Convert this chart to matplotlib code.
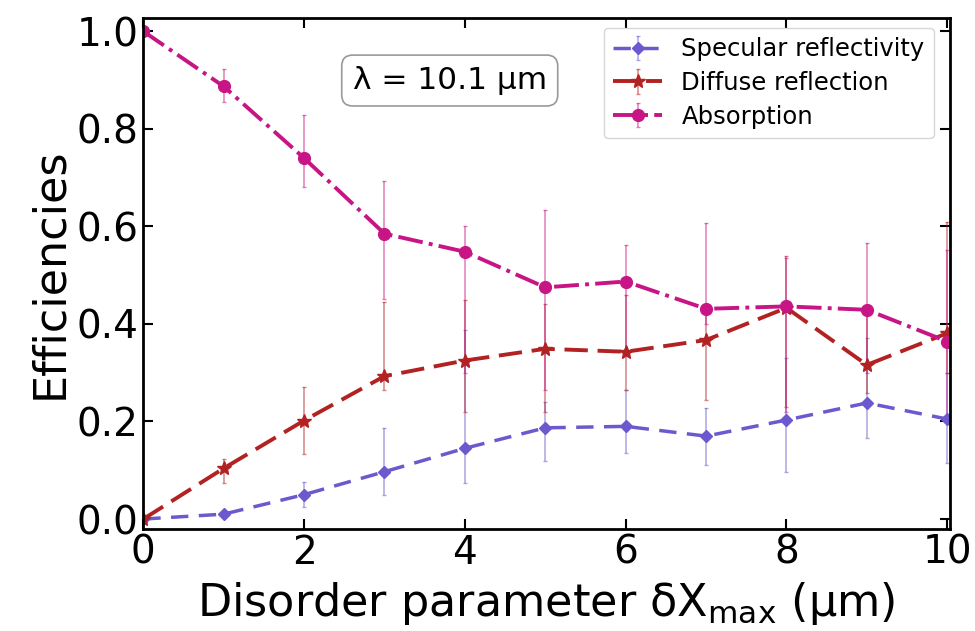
import numpy as np
import matplotlib.pyplot as plt

x = np.arange(0, 11)

# specular reflectivity
spec = [0.0, 0.01, 0.05, 0.097, 0.145, 0.187, 0.19, 0.17, 0.203, 0.238, 0.205]
spec_lo = [0.0, 0.005, 0.025, 0.049, 0.074, 0.118, 0.135, 0.11, 0.097, 0.166, 0.115]
spec_hi = [0.0, 0.015, 0.075, 0.187, 0.388, 0.24, 0.265, 0.228, 0.33, 0.371, 0.30]

# diffuse reflection
diff = [0.0, 0.104, 0.202, 0.293, 0.325, 0.349, 0.343, 0.367, 0.433, 0.316, 0.381]
diff_lo = [0.0, 0.074, 0.133, 0.265, 0.22, 0.22, 0.265, 0.244, 0.23, 0.258, 0.30]
diff_hi = [0.0, 0.123, 0.271, 0.446, 0.45, 0.44, 0.46, 0.44, 0.54, 0.43, 0.61]

# absorption
absb = [1.0, 0.887, 0.74, 0.585, 0.548, 0.475, 0.487, 0.431, 0.436, 0.429, 0.364]
absb_lo = [1.0, 0.856, 0.68, 0.451, 0.30, 0.265, 0.335, 0.40, 0.22, 0.30, 0.21]
absb_hi = [1.0, 0.923, 0.829, 0.694, 0.60, 0.634, 0.562, 0.607, 0.536, 0.566, 0.552]


def err(v, lo, hi):
    v = np.array(v)
    return [v - np.array(lo), np.array(hi) - v]


fig = plt.figure(figsize=(9.75, 6.31), dpi=100)
ax = fig.add_axes([0.147, 0.162, 0.827, 0.810])

ax.errorbar(x, spec, yerr=err(spec, spec_lo, spec_hi), color='slateblue', marker='D', ms=6,
            lw=2.5, dashes=(5, 3), elinewidth=1.1, capsize=1.5, ecolor=(0.42, 0.35, 0.8, 0.55),
            label='Specular reflectivity')
ax.errorbar(x, diff, yerr=err(diff, diff_lo, diff_hi), color='firebrick', marker='*', ms=10,
            lw=2.8, dashes=(6, 2.5), elinewidth=1.1, capsize=1.5, ecolor=(0.7, 0.13, 0.13, 0.55),
            label='Diffuse reflection')
ax.errorbar(x, absb, yerr=err(absb, absb_lo, absb_hi), color='mediumvioletred', marker='o', ms=8.5,
            lw=2.8, linestyle='-.', elinewidth=1.1, capsize=1.5, ecolor=(0.78, 0.08, 0.52, 0.55),
            label='Absorption')

ax.set_xlim(0, 10.03)
ax.set_ylim(-0.02, 1.028)
ax.set_xticks([0, 2, 4, 6, 8, 10])
ax.set_yticks([0.0, 0.2, 0.4, 0.6, 0.8, 1.0])
ax.tick_params(direction='in', top=True, right=True, length=7, width=1.5, labelsize=28)
for s in ax.spines.values():
    s.set_linewidth(2)

ax.set_xlabel(r'Disorder parameter δX$_{\mathrm{max}}$ (µm)', fontsize=32, labelpad=6)
ax.set_ylabel('Efficiencies', fontsize=32)

ax.text(0.380, 0.877, 'λ = 10.1 µm', transform=ax.transAxes, fontsize=22.5, ha='center', va='center',
        bbox=dict(boxstyle='round,pad=0.35', fc='white', ec='0.6', lw=1.2))

ax.legend(loc='upper right', fontsize=17.5, frameon=True, handlelength=2.0,
          labelspacing=0.4, borderaxespad=0.3, bbox_to_anchor=(0.99, 0.995))

plt.savefig('out.png', dpi=100)
